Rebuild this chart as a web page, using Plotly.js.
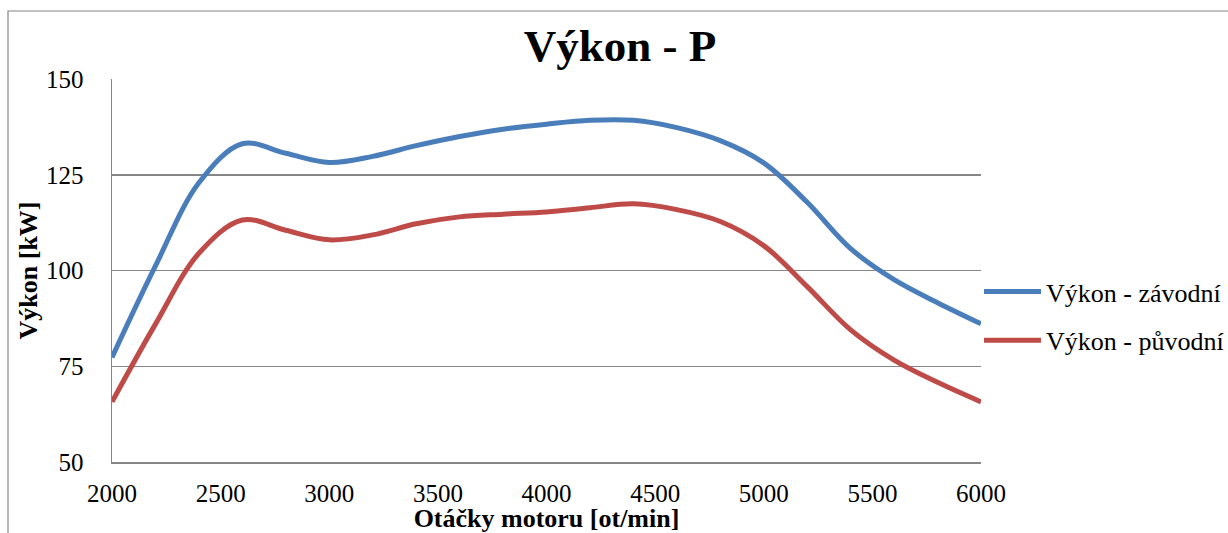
<!DOCTYPE html>
<html>
<head>
<meta charset="utf-8">
<script src="https://cdn.plot.ly/plotly-3.0.1.min.js"></script>
<style>
html,body{margin:0;padding:0;background:#fff;}
#chart{width:1228px;height:533px;}
</style>
</head>
<body>
<div id="chart"></div>
<script>
// Data (engine speed in rpm, power in kW)
const otacky = [2000, 2200, 2400, 2600, 2800, 3000, 3200, 3400, 3600, 3800, 4000, 4200, 4400, 4600, 4800, 5000, 5200, 5400, 5600, 5800, 6000];
const vykonZavodni = [77.3, 101.2, 122.9, 133.1, 130.6, 128.2, 129.8, 132.6, 135.0, 136.9, 138.2, 139.2, 139.2, 137.3, 133.9, 128.1, 117.8, 105.7, 97.6, 91.6, 86.1];
const vykonPuvodni = [65.7, 86.0, 104.5, 113.2, 110.5, 108.0, 109.3, 112.2, 114.0, 114.7, 115.3, 116.4, 117.4, 115.9, 112.8, 106.5, 95.8, 84.5, 76.6, 70.8, 65.7];

const xTicks = [2000, 2500, 3000, 3500, 4000, 4500, 5000, 5500, 6000];
const yTicks = [50, 75, 100, 125, 150];

const seriesNames = ['Výkon - závodní', 'Výkon - původní'];
const titleText = 'Výkon - P';
const xTitle = 'Otáčky motoru [ot/min]';
const yTitle = 'Výkon [kW]';

const FONT = 'Liberation Serif, Times New Roman, serif';

const traces = [
  {
    x: otacky, y: vykonZavodni, name: seriesNames[0], type: 'scatter', mode: 'lines',
    line: {color: '#4A7EBB', width: 5, shape: 'spline', smoothing: 1},
    legendgroup: 'a', hoverinfo: 'skip'
  },
  {
    x: otacky, y: vykonPuvodni, name: seriesNames[1], type: 'scatter', mode: 'lines',
    line: {color: '#BE4B48', width: 5, shape: 'spline', smoothing: 1},
    legendgroup: 'b', hoverinfo: 'skip'
  }
];

const L = 112, R = 1228 - 981, T = 79, B = 533 - 462;
const PW = 1228 - L - R, PH = 533 - T - B;

const layout = {
  width: 1228, height: 533,
  margin: {l: L, r: R, t: T, b: B, pad: 0, autoexpand: false},
  paper_bgcolor: '#ffffff', plot_bgcolor: '#ffffff',
  font: {family: FONT, color: '#000000', size: 25},
  title: {
    text: titleText,
    font: {family: FONT, size: 45, weight: 'bold', color: '#000'},
    xref: 'container', yref: 'container',
    x: 620 / 1228, xanchor: 'center',
    y: 1 - 45 / 533, yanchor: 'middle'
  },
  xaxis: {
    range: [2000, 6000],
    tickvals: xTicks, ticktext: xTicks.map(String),
    showgrid: false, zeroline: false,
    showline: true, linecolor: '#868686', linewidth: 1.5,
    ticks: '', ticklabelstandoff: 8,
    tickfont: {family: FONT, size: 25, color: '#000'},
    title: {text: xTitle, font: {family: FONT, size: 26, weight: 'bold', color: '#000'}, standoff: 10},
    automargin: false, fixedrange: true
  },
  yaxis: {
    range: [50, 150],
    tickvals: yTicks, ticktext: yTicks.map(String),
    showgrid: true, gridcolor: '#868686', gridwidth: 1.5,
    zeroline: false,
    showline: true, linecolor: '#868686', linewidth: 1.5,
    ticks: '', ticklabelstandoff: 22,
    tickfont: {family: FONT, size: 25, color: '#000'},
    title: {text: yTitle, font: {family: FONT, size: 26, weight: 'bold', color: '#000'}, standoff: 1},
    automargin: false, fixedrange: true
  },
  showlegend: true,
  legend: {
    xref: 'container', yref: 'container',
    x: 979 / 1228, xanchor: 'left',
    y: 1 - 316 / 533, yanchor: 'middle',
    font: {family: FONT, size: 26, color: '#000'},
    bgcolor: 'rgba(0,0,0,0)', borderwidth: 0,
    itemwidth: 57, tracegroupgap: 12,
    traceorder: 'grouped'
  },
  shapes: [
    {
      type: 'rect', xref: 'paper', yref: 'paper',
      x0: (8 - L) / PW, x1: (1240 - L) / PW,
      y0: (462 - 560) / PH, y1: (462 - 11) / PH,
      line: {color: '#868686', width: 1.2}, fillcolor: 'rgba(0,0,0,0)', layer: 'below'
    }
  ]
};

Plotly.newPlot('chart', traces, layout, {staticPlot: true, displayModeBar: false});
</script>
</body>
</html>
